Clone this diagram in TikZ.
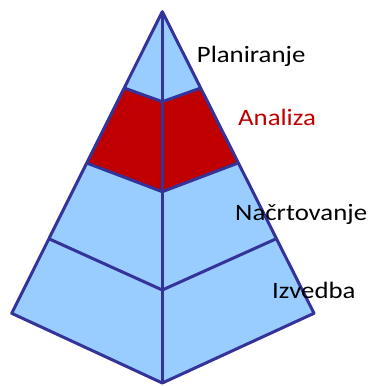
\documentclass[tikz,border=0pt]{standalone}
\usepackage{fontspec}
\setmainfont{Carlito}
\definecolor{pyrblue}{HTML}{99CCFF}
\definecolor{pyrred}{HTML}{C00000}
\definecolor{pyrline}{HTML}{333399}
\newcommand\widetext[1]{\scalebox{1.14}[1]{#1}}
\tikzset{
  edge/.style={pyrline,line width=3pt,line join=round},
  level/.style={anchor=base west,inner sep=0pt,font=\fontsize{23.5}{28}\selectfont}
}
\begin{document}
\begin{tikzpicture}[x=1pt,y=-1pt]
    \useasboundingbox (0,0) rectangle (368,386);
    % corners and band points
    \coordinate (top) at (162.3,11.7);
    \coordinate (bl) at (11.7,313.3); \coordinate (bc) at (162.3,383); \coordinate (br) at (314,313.3);
    \coordinate (l1) at (125,88.3);  \coordinate (c1) at (162.3,101.7); \coordinate (r1) at (200,88.3);
    \coordinate (l2) at (87.5,163.3);  \coordinate (c2) at (162.3,191.7); \coordinate (r2) at (237.3,163.3);
    \coordinate (l3) at (49.5,239);  \coordinate (c3) at (162.3,290); \coordinate (r3) at (275.7,239);
    \fill[pyrblue] (top) -- (bl) -- (bc) -- (br) -- cycle;
    \fill[pyrred] (l1) -- (c1) -- (r1) -- (r2) -- (c2) -- (l2) -- cycle;
    \draw[edge] (l1) -- (c1) -- (r1);
    \draw[edge] (l2) -- (c2) -- (r2);
    \draw[edge] (l3) -- (c3) -- (r3);
    \draw[edge,line width=2.5pt] (top) -- (bc);
    \draw[edge] (top) -- (bl) -- (bc) -- (br) -- cycle;
    % labels
    \node[level] (plan) at (196.7,62.3) {\widetext{Planiranje}};
    \node[level,text=pyrred] (anal) at (238,125) {\widetext{Analiza}};
    \node[level] (nacrt) at (235,220.7) {\widetext{Načrtovanje}};
    \node[level] (izv) at (272,298.7) {\widetext{Izvedba}};
\end{tikzpicture}
\end{document}
